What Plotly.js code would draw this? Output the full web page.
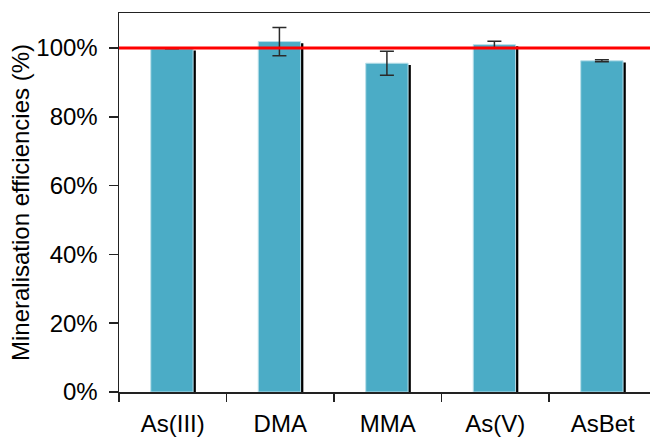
<!DOCTYPE html>
<html>
<head>
<meta charset="utf-8">
<script src="https://cdn.plot.ly/plotly-3.0.1.min.js"></script>
<style>html,body{margin:0;padding:0;background:#fff;}#chart{width:650px;height:439px;}</style>
</head>
<body>
<div id="chart"></div>
<script>
const categories = ["As(III)", "DMA", "MMA", "As(V)", "AsBet"];
const efficiency = [99.8, 101.9, 95.6, 101.0, 96.3];
const errorValues = [0, 4.1, 3.5, 0.95, 0.3];
const referenceLevel = 100;
const yTickValues = [0, 20, 40, 60, 80, 100];

const font = "Liberation Sans, Arial, Helvetica, sans-serif";

const shadow = {
  type: "bar",
  x: categories,
  y: efficiency.map(v => v - 0.5),
  width: 0.394,
  offset: -0.179,
  marker: {color: "#000000", line: {width: 0}},
  hoverinfo: "skip",
  showlegend: false
};

const bars = {
  type: "bar",
  x: categories,
  y: efficiency,
  width: 0.394,
  offset: -0.2046,
  marker: {color: "#4BACC6", line: {color: "#b9dfe9", width: 1}},
  error_y: {type: "data", array: errorValues, visible: true, color: "#2a2a2a", thickness: 1.5, width: 7},
  showlegend: false
};

const layout = {
  width: 650,
  height: 439,
  margin: {l: 119, r: 0, t: 13, b: 47, pad: 0},
  paper_bgcolor: "#ffffff",
  plot_bgcolor: "#ffffff",
  barmode: "overlay",
  showlegend: false,
  font: {family: font, size: 24, color: "#000000"},
  xaxis: {
    type: "category",
    range: [-0.5, 4.44],
    tickson: "boundaries",
    ticks: "outside",
    ticklen: 8,
    tickwidth: 1.5,
    tickcolor: "#222222",
    ticklabelstandoff: 10,
    showline: true,
    linecolor: "#222222",
    linewidth: 1.5,
    mirror: true,
    showgrid: false,
    zeroline: false,
    automargin: false,
    tickfont: {family: font, size: 24, color: "#000000"}
  },
  yaxis: {
    range: [0, 110.2],
    tickvals: yTickValues,
    ticktext: yTickValues.map(v => v + "%"),
    ticks: "outside",
    ticklen: 9,
    tickwidth: 1.5,
    tickcolor: "#222222",
    ticklabelstandoff: 6,
    showline: true,
    linecolor: "#222222",
    linewidth: 1.5,
    showgrid: false,
    zeroline: false,
    automargin: false,
    tickfont: {family: font, size: 24, color: "#000000"},
    title: {text: "Mineralisation efficiencies (%)", font: {family: font, size: 24, color: "#000000"}, standoff: 0}
  },
  shapes: [{
    type: "line",
    xref: "paper",
    yref: "y",
    x0: 0,
    x1: 1,
    y0: referenceLevel,
    y1: referenceLevel,
    line: {color: "#ff0000", width: 3}
  }]
};

Plotly.newPlot("chart", [shadow, bars], layout, {displayModeBar: false, staticPlot: true});
</script>
</body>
</html>
